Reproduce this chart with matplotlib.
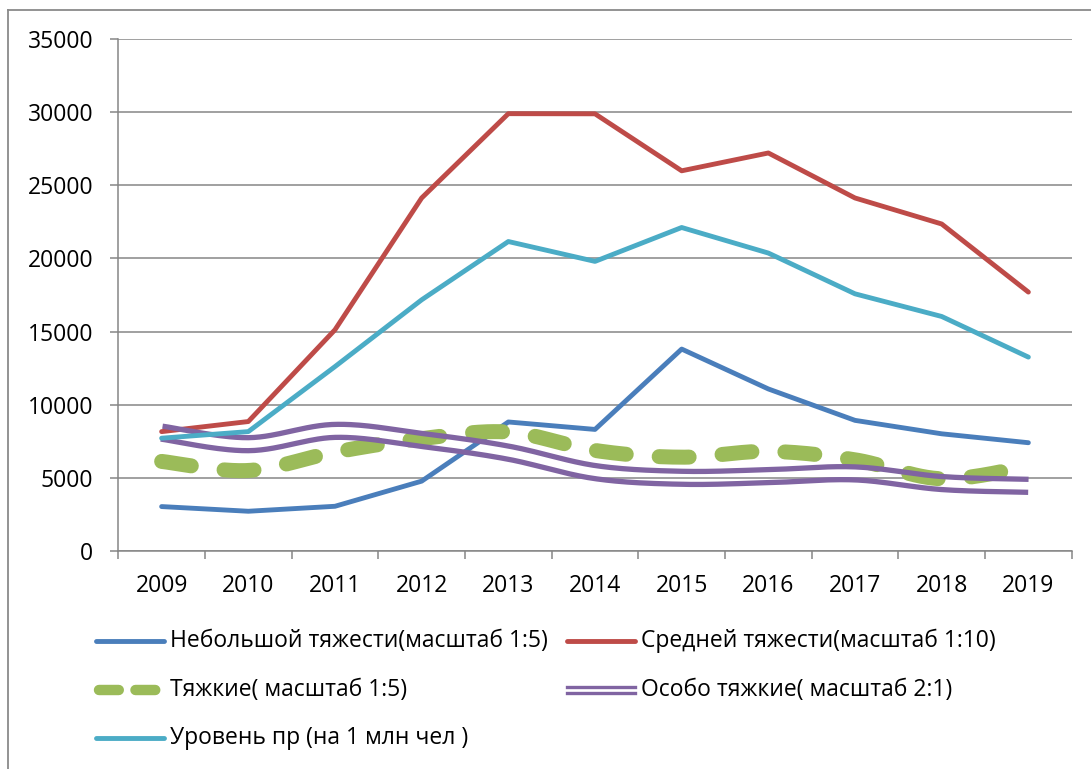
import numpy as np
import matplotlib
matplotlib.use("Agg")
import matplotlib.pyplot as plt
from matplotlib.lines import Line2D

plt.rcParams['font.family'] = ['Open Sans', 'DejaVu Sans']

years = ['2009', '2010', '2011', '2012', '2013', '2014', '2015', '2016', '2017', '2018', '2019']
minor_vals = [3020, 2700, 3040, 4760, 8810, 8300, 13800, 11070, 8920, 8000, 7390]
medium_vals = [8150, 8840, 15120, 24140, 29910, 29900, 26000, 27220, 24140, 22360, 17700]
grave_vals = [6110, 5490, 6750, 7670, 8120, 6860, 6400, 6800, 6220, 4920, 5770]
especially_vals = [8080, 7290, 8200, 7580, 6710, 5380, 4990, 5100, 5290, 4630, 4440]
rate_vals = [7700, 8150, 12600, 17170, 21160, 19800, 22120, 20370, 17580, 16030, 13250]

labels = ['Небольшой тяжести(масштаб 1:5)', 'Средней тяжести(масштаб 1:10)',
          'Тяжкие( масштаб 1:5)', 'Особо тяжкие( масштаб 2:1)',
          'Уровень пр (на 1 млн чел )']
colors = ['#4A7EBB', '#BE4B48', '#9BBB59', '#8064A2', '#4BACC6']

W, H = 1091, 769
fig = plt.figure(figsize=(W / 100, H / 100), dpi=100)
ax = fig.add_axes([118.3 / W, 1 - 550.7 / H, (1071.7 - 118.3) / W, (550.7 - 39.3) / H])

n = len(years)
x = np.arange(n)
ax.set_xlim(-0.5, n - 0.5)
ax.set_ylim(0, 35000)


def smooth(xs, ys, steps=30):
    xs = np.asarray(xs, float)
    ys = np.asarray(ys, float)
    px = np.concatenate([[xs[0]], xs, [xs[-1]]])
    py = np.concatenate([[ys[0]], ys, [ys[-1]]])
    outx, outy = [], []
    t = np.linspace(0, 1, steps)
    for i in range(1, len(px) - 2):
        p0 = np.array([px[i], py[i]])
        p3 = np.array([px[i + 1], py[i + 1]])
        c1 = p0 + (p3 - np.array([px[i - 1], py[i - 1]])) / 6
        c2 = p3 - (np.array([px[i + 2], py[i + 2]]) - p0) / 6
        b = ((1 - t) ** 3)[:, None] * p0 + (3 * (1 - t) ** 2 * t)[:, None] * c1 + \
            (3 * (1 - t) * t ** 2)[:, None] * c2 + (t ** 3)[:, None] * p3
        if i > 1:
            b = b[1:]
        outx.extend(b[:, 0])
        outy.extend(b[:, 1])
    return np.array(outx), np.array(outy)


lw = 3.5
ax.plot(x, minor_vals, color=colors[0], lw=lw, solid_capstyle='round', solid_joinstyle='round', zorder=3)
ax.plot(x, medium_vals, color=colors[1], lw=lw, solid_capstyle='round', solid_joinstyle='round', zorder=3)
gx, gy = smooth(x, grave_vals)
ax.plot(gx, gy, color=colors[2], lw=10.8, dashes=(2.0, 2.2), dash_capstyle='round', zorder=3)

# double line for "особо тяжкие": offset the smoothed curve in display space
px_, py_ = smooth(x, especially_vals)
disp = ax.transData.transform(np.column_stack([px_, py_]))
d = np.gradient(disp, axis=0)
nrm = np.column_stack([-d[:, 1], d[:, 0]])
nrm /= np.linalg.norm(nrm, axis=1)[:, None]
off = 6.5
inv = ax.transData.inverted()
for s in (1, -1):
    pts = inv.transform(disp + s * off * nrm)
    ax.plot(pts[:, 0], pts[:, 1], color=colors[3], lw=3.8, solid_capstyle='butt', zorder=3)

ax.plot(x, rate_vals, color=colors[4], lw=lw, solid_capstyle='round', solid_joinstyle='round', zorder=3)

# axes styling
grid_c = '#868686'
fs = 16.5
ax.set_yticks(np.arange(0, 35001, 5000))
ax.set_yticklabels([str(v) for v in range(0, 35001, 5000)])
ax.yaxis.grid(True, color=grid_c, lw=1.1)
ax.set_axisbelow(True)
ax.set_xticks(np.arange(-0.5, n, 1.0))
ax.set_xticklabels([])
ax.set_xticks(x, minor=True)
ax.set_xticklabels(years, minor=True)
ax.tick_params(axis='x', which='major', direction='out', length=6, width=1.1, color=grid_c)
ax.tick_params(axis='x', which='minor', length=0, pad=17, labelsize=fs)
ax.tick_params(axis='y', direction='out', length=6, width=1.1, color=grid_c, pad=12, labelsize=fs)
for side in ('top', 'right'):
    ax.spines[side].set_visible(False)
for side in ('left', 'bottom'):
    ax.spines[side].set_color(grid_c)
    ax.spines[side].set_linewidth(1.1)

# chart area border (top and left visible)
fig.add_artist(Line2D([8 / W, 8 / W], [1 - 10 / H, 0], color='#8a8a8a', lw=1.3, transform=fig.transFigure))
fig.add_artist(Line2D([8 / W, 1], [1 - 10 / H, 1 - 10 / H], color='#8a8a8a', lw=1.3, transform=fig.transFigure))

# legend (manual, Excel style)
entries = [(96, 641), (567, 641), (96, 690), (567, 690), (96, 738)]
hl = 68
for i, (lx, ly) in enumerate(entries):
    yy = 1 - ly / H
    x0, x1 = lx / W, (lx + hl) / W
    if i == 2:
        fig.add_artist(Line2D([x0 + 3 / W, x1 - 3 / W], [yy, yy], color=colors[i], lw=7.5,
                              dashes=(1.9, 1.6), dash_capstyle='round', transform=fig.transFigure))
    elif i == 3:
        for s in (2.8, -2.8):
            fig.add_artist(Line2D([x0, x1], [yy + s / H, yy + s / H], color=colors[i], lw=2.4,
                                  transform=fig.transFigure))
    else:
        fig.add_artist(Line2D([x0, x1], [yy, yy], color=colors[i], lw=lw, solid_capstyle='round',
                              transform=fig.transFigure))
    fig.text((lx + hl + 6) / W, yy, labels[i], fontsize=fs, va='center', ha='left')

fig.savefig('out.png', dpi=100)
